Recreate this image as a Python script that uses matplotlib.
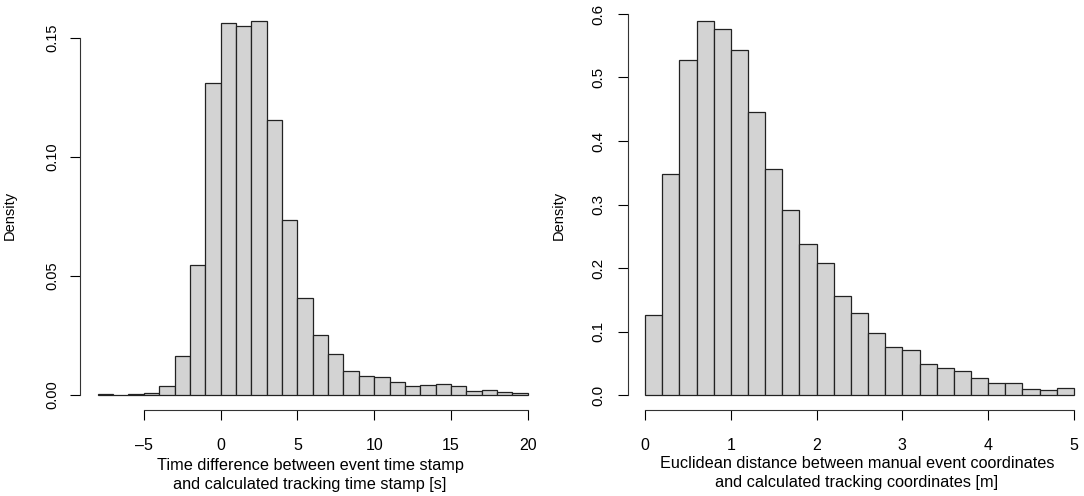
import numpy as np
import matplotlib.pyplot as plt

plt.rcParams['font.family'] = ['Liberation Sans', 'DejaVu Sans']

# Left histogram: time difference, bins of width 1 from -8 to 20
time_edges = np.arange(-8, 21, 1)
time_density = [0.0003, 0.0001, 0.0005, 0.0010, 0.0036, 0.0162, 0.0545, 0.1310,
                 0.1563, 0.1549, 0.1570, 0.1154, 0.0734, 0.0406, 0.0253, 0.0174,
                 0.0099, 0.0081, 0.0074, 0.0053, 0.0036, 0.0043, 0.0048, 0.0039,
                 0.0018, 0.0020, 0.0014, 0.0008]
time_ticks = [-5, 0, 5, 10, 15, 20]
time_yticks = [0.00, 0.05, 0.10, 0.15]

# Right histogram: euclidean distance, bins of width 0.2 from 0 to 5
dist_edges = np.linspace(0, 5, 26)
dist_density = [0.1267, 0.3475, 0.5280, 0.5890, 0.5770, 0.5436, 0.4458, 0.3565,
                0.2907, 0.2376, 0.2077, 0.1556, 0.1288, 0.0978, 0.0757, 0.0704,
                0.0484, 0.0420, 0.0379, 0.0268, 0.0189, 0.0189, 0.0095, 0.0084,
                0.0110]
dist_ticks = [0, 1, 2, 3, 4, 5]
dist_yticks = [0.0, 0.1, 0.2, 0.3, 0.4, 0.5, 0.6]

W, H = 1084, 496
fig = plt.figure(figsize=(W / 100, H / 100), dpi=100)


def px_axes(x0, x1, ytop, ybot):
    return fig.add_axes([x0 / W, (H - ybot) / H, (x1 - x0) / W, (ybot - ytop) / H])


def r_hist(ax, edges, dens, xticks, yticks, ylab_size, ylab_pad):
    ax.bar(edges[:-1], dens, width=np.diff(edges), align='edge',
           color='#d3d3d3', edgecolor='#222222', linewidth=0.9)
    span = edges[-1] - edges[0]
    ax.set_xlim(edges[0] - 0.04 * span, edges[-1] + 0.04 * span)
    ymax = max(dens)
    ax.set_ylim(-0.04 * ymax, 1.04 * ymax)
    for s in ['top', 'right']:
        ax.spines[s].set_visible(False)
    ax.spines['left'].set_bounds(yticks[0], yticks[-1])
    ax.spines['bottom'].set_bounds(xticks[0], xticks[-1])
    for s in ['left', 'bottom']:
        ax.spines[s].set_linewidth(0.8)
        ax.spines[s].set_color('#333333')
    ax.set_xticks(xticks)
    ax.set_xticklabels([f"{t:g}".replace('-', '\u2013') for t in xticks])
    ax.set_yticks(yticks)
    ax.tick_params(axis='x', length=7, width=0.8, pad=13, labelsize=11.5)
    ax.tick_params(axis='y', length=7, width=0.8, pad=ylab_pad, labelsize=ylab_size,
                   labelrotation=90)
    for lab in ax.get_yticklabels():
        lab.set_va('center')


ax1 = px_axes(80.5, 545, 6, 410)
r_hist(ax1, time_edges, time_density, time_ticks, time_yticks, 10.5, 8)
ax1.set_yticklabels(["0.00", "0.05", "0.10", "0.15"])

ax2 = px_axes(628, 1091, 6, 410)
r_hist(ax2, dist_edges, dist_density, dist_ticks, dist_yticks, 11, 9)
ax2.set_yticklabels(["0.0", "0.1", "0.2", "0.3", "0.4", "0.5", "0.6"])

fig.text(10 / W, 1 - 215 / H, "Density", rotation=90, ha='center', va='center', fontsize=10.5)
fig.text(559 / W, 1 - 215 / H, "Density", rotation=90, ha='center', va='center', fontsize=10.5)

fig.text(310 / W, 1 - 475 / H, "Time difference between event time stamp\nand calculated tracking time stamp [s]",
         ha='center', va='center', fontsize=11.7, linespacing=1.3)
fig.text(857 / W, 1 - 473 / H, "Euclidean distance between manual event coordinates\nand calculated tracking coordinates [m]",
         ha='center', va='center', fontsize=11.7, linespacing=1.3)

plt.savefig("out.png", dpi=100)
